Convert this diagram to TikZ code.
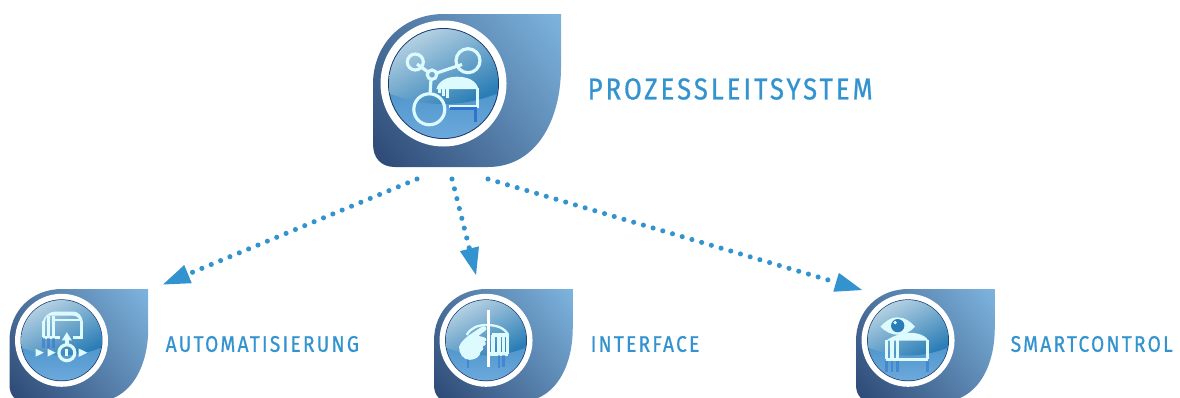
\documentclass[tikz,border=0pt]{standalone}
\usepackage{fontspec}
\setmainfont{Fira Sans}
\newfontfamily\labelfont[LetterSpace=10,FakeStretch=0.85,FakeBold=0.8]{Fira Sans}
\usetikzlibrary{arrows.meta}

\definecolor{leafdark}{HTML}{29436F}
\definecolor{leaflight}{HTML}{7EB6E0}
\definecolor{ringdark}{HTML}{1D3A68}
\definecolor{ballhigh}{HTML}{BAD4E4}
\definecolor{ballmid}{HTML}{2A7DB6}
\definecolor{balllow}{HTML}{6CA9DC}
\definecolor{iconpale}{HTML}{DDFBFF}
\definecolor{iconblue}{HTML}{2F74D0}
\definecolor{linkblue}{HTML}{3393CF}

\tikzset{
  iconline/.style={draw=iconpale,line width=0.9pt},
  iconthin/.style={draw=iconpale,line width=0.65pt},
  iconfill/.style={fill=iconpale},
  iconshadow/.style={draw=iconblue,opacity=0.55,line width=0.75pt},
  titlelabel/.style={anchor=west,inner sep=0pt,text=linkblue,font=\labelfont\fontsize{8.6}{10}\selectfont},
  sublabel/.style={anchor=west,inner sep=0pt,text=linkblue,font=\labelfont\fontsize{6.4}{8}\selectfont},
  dotlink/.style={draw=linkblue,line width=1.45pt,line cap=round,dash pattern=on 0pt off 2.88pt,
    -{Triangle[length=7.7pt,width=5.6pt,line width=0pt,fill=linkblue]}}
}

\newcommand{\leaftile}[4]{
\begin{scope}[shift={(#1,#2)},scale=#3]
\begin{scope}
\clip (0,130) -- (0,70) .. controls (0,30) and (30,0) .. (71,0) -- (188,0) -- (188,53)
  .. controls (188,108) and (162,153) .. (115,153) -- (22,153)
  .. controls (8,153) and (0,144) .. (0,130) -- cycle;
\shade[top color=leaflight,bottom color=leafdark,shading angle=-52] (-55,-65) rectangle (205,180);
\end{scope}
\fill[white] (70.5,69.5) circle (63);
\fill[ringdark] (70.5,69.5) circle (55.5);
\shade[top color=ballmid,bottom color=balllow] (70.5,69.5) circle (54.5);
\begin{scope}
\clip (70.5,69.5) circle (54.5);
\clip (70.5,-52) circle (142);
\shade[top color=ballhigh,bottom color=ballmid,shading angle=28] (16,14) rectangle (125,92);
\end{scope}
#4
\end{scope}
}

\begin{document}
\begin{tikzpicture}[x=0.01cm,y=-0.01cm]
\useasboundingbox (0,0) rectangle (1180,397);

\leaftile{373}{14}{1}{
  \draw[iconline] (42.3,48) circle (8);
  \draw[iconline] (95,46.7) circle (12);
  \draw[iconline] (59,60.7) circle (4.7);
  \draw[iconline] (56.3,95.3) circle (15.5);
  \draw[iconline] (44,50) -- (55,58);
  \draw[iconline] (63.5,59) -- (89,50.5);
  \draw[iconline] (58,65.4) -- (57,80);
  \fill[iconfill] (63.3,75) .. controls (66,66) and (75,62.7) .. (84,62.7)
    .. controls (94,62.7) and (103,66) .. (105.5,75) -- cycle;
  \draw[iconline] (104.4,74) -- (104.4,92.7) -- (76,92.7);
  \draw[iconthin] (66.5,74) -- (66.5,79);
  \draw[iconthin] (70.5,74) -- (70.5,82);
  \draw[iconline] (74.5,74) -- (74.5,84);
  \draw[iconblue,line width=1pt] (77.3,94.6) -- (102.3,94.6) -- (102.3,107.7);
}
\node[titlelabel] (leitlabel) at (587,89) {PROZESSLEITSYSTEM};

\leaftile{9.5}{289}{0.738}{
  \fill[iconfill] (44.5,45) .. controls (47,36) and (55,30.5) .. (62,30.5)
    -- (86.7,30.5) .. controls (93,30.5) and (99,37) .. (99.5,45) -- (96.5,45)
    .. controls (94,40) and (92,36) .. (86,36) -- (52,36) .. controls (50,38) and (48,41) .. (47.5,45) -- cycle;
  \draw[iconline] (46,44) -- (46,65.5);
  \draw[iconline] (52.8,36) -- (52.8,65.5);
  \draw[iconline] (59.6,36) -- (59.6,65.5);
  \draw[iconline] (98,44) -- (98,65.5) -- (86,65.5);
  \draw[iconthin] (59.6,42) -- (98,42);
  \draw[iconline] (46,65.5) -- (69,65.5);
  \draw[iconshadow] (46,67) -- (46,80.4);
  \draw[iconshadow] (52.8,67) -- (52.8,80.4);
  \draw[iconshadow] (59.6,67) -- (59.6,80.4);
  \fill[iconfill] (35.5,81) -- (46.5,86.3) -- (35.5,91.6) -- cycle;
  \fill[iconfill] (51.5,81) -- (62.5,86.3) -- (51.5,91.6) -- cycle;
  \fill[iconfill] (93.5,80.5) -- (105.5,86.3) -- (93.5,92.1) -- cycle;
  \fill[iconfill] (71,69.5) -- (77.7,58.5) -- (84.4,69.5) -- cycle;
  \draw[iconline,line width=1.2pt] (77.7,68) -- (77.7,75.5);
  \draw[iconline] (77.7,86.3) circle (10.8);
  \draw[iconline] (77.7,81.8) -- (77.7,90.8);
}
\node[sublabel] (autolabel) at (165,344) {AUTOMATISIERUNG};

\leaftile{434}{289}{0.738}{
  \draw[iconthin] (44.3,62.3) .. controls (50,52) and (60,48.8) .. (71.4,48.8)
    .. controls (84,48.8) and (95,52) .. (100.7,62.3);
  \draw[iconline] (79,62.3) -- (100.7,62.3);
  \draw[iconline] (80,62.3) -- (80,88);
  \draw[iconline] (88,60) -- (88,88);
  \draw[iconline] (94,60) -- (94,88);
  \draw[iconline] (100,62) -- (100,88);
  \draw[iconline] (76,88) -- (100,88);
  \draw[iconshadow] (88,90) -- (88,107);
  \draw[iconshadow] (94,90) -- (94,105);
  \draw[iconshadow] (46,90) -- (46,107);
  \fill[iconfill] (34,78) .. controls (36,72) and (42,67) .. (47,63)
    -- (65,51) .. controls (69,49) and (73,53) .. (70,56) -- (60,63.5)
    -- (68,65.5) .. controls (72,66.5) and (72,71) .. (68,71) .. controls (72,73) and (70,78) .. (66,77)
    .. controls (68,81) and (65,85) .. (63,85) .. controls (63,92) and (55,96) .. (48,96)
    .. controls (40,96) and (33,87) .. (34,78) -- cycle;
  \draw[draw=white,line width=1pt] (73.6,28.5) -- (73.6,106);
}
\node[sublabel] (facelabel) at (590,344) {INTERFACE};

\leaftile{856}{289}{0.738}{
  \fill[iconfill] (33,51) .. controls (42,42) and (48,38.4) .. (56,38.4)
    .. controls (66,38.4) and (74,44) .. (80,51) .. controls (74,58) and (66,62) .. (57,62)
    .. controls (48,62) and (40,58) .. (33,51) -- cycle;
  \fill[ballmid] (56.5,49.7) circle (9);
  \fill[iconfill] (53,45.5) circle (2.5);
  \fill[iconfill] (40.5,70) .. controls (46,66) and (54,62.5) .. (62,60.5)
    .. controls (75,57.5) and (93,60) .. (98,70) -- cycle;
  \draw[iconline] (41.6,69) -- (41.6,95);
  \draw[iconline] (48.8,69) -- (48.8,95);
  \draw[iconline] (56.5,69) -- (56.5,95);
  \draw[iconline] (97,69) -- (97,95);
  \draw[iconline] (41,95) -- (97.6,95);
  \draw[iconshadow] (41.6,97) -- (41.6,112);
  \draw[iconshadow] (48.8,97) -- (48.8,112);
  \draw[iconshadow] (56.5,97) -- (56.5,112);
  \draw[iconshadow] (97,97) -- (97,112);
}
\node[sublabel] (smartlabel) at (1010,344) {SMARTCONTROL};

\coordinate (leitA) at (417,179);
\coordinate (leitB) at (452,179);
\coordinate (leitC) at (488,179);
\coordinate (autoin) at (163,284.5);
\coordinate (facein) at (476,275);
\coordinate (smartin) at (862,290);
\draw[dotlink] (leitA) -- (autoin);
\draw[dotlink] (leitB) -- (facein);
\draw[dotlink] (leitC) -- (smartin);
\end{tikzpicture}
\end{document}
